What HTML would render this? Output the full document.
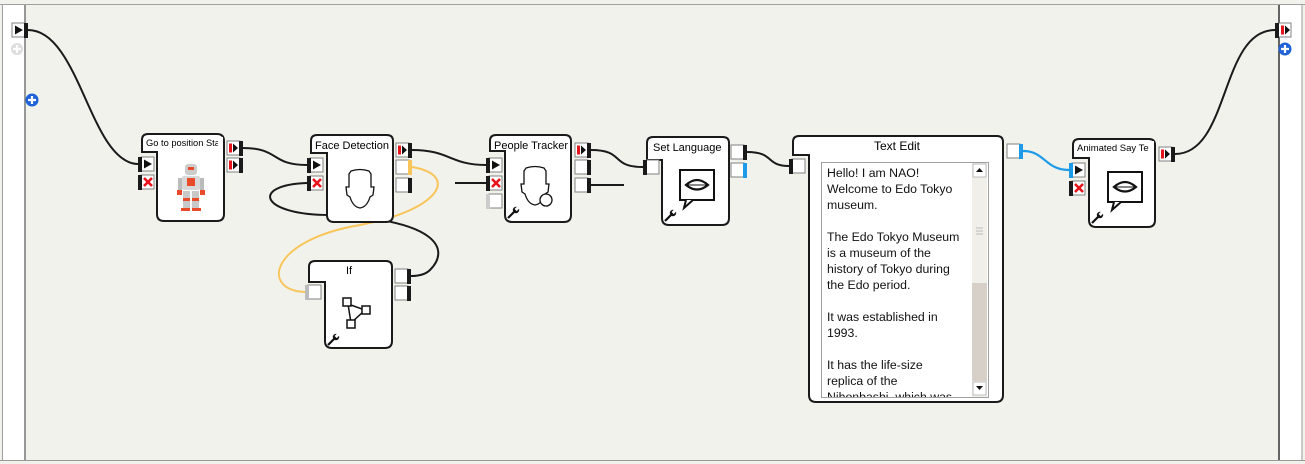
<!DOCTYPE html>
<html><head><meta charset="utf-8"><style>
html,body{margin:0;padding:0;background:#f2f2ec;}
svg{display:block;}
text{font-family:"Liberation Sans",sans-serif;}
</style></head><body>
<svg width="1305" height="464" viewBox="0 0 1305 464" xmlns="http://www.w3.org/2000/svg">
<defs>
<g id="pin"><rect x="3" y="0" width="13" height="14" fill="#fff" stroke="#808080" stroke-width="1"/><rect x="0" y="0" width="4" height="15" fill="#1a1a1a"/></g>
<g id="pout"><rect x="0" y="0" width="13" height="14" fill="#fff" stroke="#808080" stroke-width="1"/><rect x="12" y="0" width="4" height="15" fill="#1a1a1a"/></g>
<path id="play" d="M0,0 L8,4.5 L0,9 Z" fill="#111"/>
<g id="xx"><path d="M0,0 L8,8 M8,0 L0,8" stroke="#e8141c" stroke-width="2.6"/></g>
<g id="stp"><rect x="0" y="0" width="3" height="9" fill="#e8141c"/><path d="M4,0 L9,4.5 L4,9 Z" fill="#111"/></g>
<g id="wr"><path d="M0,12 L7,5" stroke="#111" stroke-width="2.2"/><circle cx="8" cy="4" r="3.2" fill="#111"/><rect x="7" y="0" width="3" height="4" fill="#fff" transform="rotate(45 8 3)"/></g>
<g id="lips"><rect x="0" y="0" width="34" height="30" fill="#fff" stroke="#111" stroke-width="2"/><path d="M6,30 L4,38 L13,30" fill="#fff" stroke="#111" stroke-width="2"/><path d="M6,15 Q17,5 28,15 Q17,24 6,15 Z" fill="none" stroke="#111" stroke-width="2.2"/><path d="M7,15 L27,15" stroke="#111" stroke-width="1"/></g>
<path id="face" d="M4,0 Q13,-3 22,0 L24,3 L24,16 L27,16 L26,24 L23,26 Q20,36 13,37 Q6,36 3,26 L0,24 L-1,16 L2,16 L2,3 Z" fill="#fff" stroke="#111" stroke-width="1.3"/>
</defs>
<rect x="0" y="0" width="1305" height="464" fill="#f2f2ec"/>
<line x1="0" y1="4.5" x2="1305" y2="4.5" stroke="#a0a0a0"/>
<rect x="3" y="5" width="22" height="455" fill="#fff"/>
<line x1="2.5" y1="5" x2="2.5" y2="460" stroke="#a0a0a0"/>
<line x1="25" y1="5" x2="25" y2="460" stroke="#777" stroke-width="1.5"/>
<rect x="1279" y="5" width="22" height="455" fill="#fff"/>
<line x1="1279" y1="5" x2="1279" y2="460" stroke="#333" stroke-width="1.5"/>
<line x1="1302" y1="5" x2="1302" y2="460" stroke="#a0a0a0"/>
<line x1="0" y1="460.5" x2="1305" y2="460.5" stroke="#999"/>
<rect x="0" y="461" width="1305" height="3" fill="#f2f2ec"/>

<g fill="none" stroke="#1a1a1a" stroke-width="2">
<path d="M28,30 C80,30 90,163 138,164"/>
<path d="M243,148 C280,148 270,165 307,165"/>
<path d="M412,150 C450,150 450,165 486,165"/>
<path d="M307,183 C250,185 260,215 330,215 C440,220 450,250 430,270 C425,275 418,276 411,276"/>
<path d="M455,183 L486,183"/>
<path d="M591,185 L624,185"/>
<path d="M591,150 C625,150 610,167 643,167"/>
<path d="M747,152 C775,152 765,166 789,166"/>
<path d="M1175,154 C1230,154 1220,30 1275,30"/>
</g>
<path d="M412,167 C460,175 440,210 360,225 C270,240 260,290 305,292" fill="none" stroke="#f8c55a" stroke-width="2"/>
<path d="M1023,151 C1045,151 1045,170 1069,170" fill="none" stroke="#1e9be8" stroke-width="2.2"/>

<g fill="#fff" stroke="#1a1a1a" stroke-width="2">
<path d="M148,134 H217 Q224,134 224,141 V214 Q224,221 217,221 H164 Q157,221 157,214 V152 H142 V140 Q142,134 148,134 Z"/>
<path d="M317,135 H387 Q393,135 393,141 V215 Q393,222 386,222 H334 Q327,222 327,215 V153 H311 V141 Q311,135 317,135 Z"/>
<path d="M315,261 H386 Q392,261 392,267 V341 Q392,348 385,348 H332 Q325,348 325,341 V282 H309 V267 Q309,261 315,261 Z"/>
<path d="M496,135 H565 Q571,135 571,141 V215 Q571,222 564,222 H512 Q505,222 505,215 V151 H490 V141 Q490,135 496,135 Z"/>
<path d="M653,137 H723 Q729,137 729,143 V218 Q729,225 722,225 H669 Q662,225 662,218 V160 H647 V143 Q647,137 653,137 Z"/>
<path d="M799,136 H997 Q1003,136 1003,142 V395 Q1003,402 996,402 H816 Q809,402 809,395 V155 H793 V142 Q793,136 799,136 Z"/>
<path d="M1079,139 H1149 Q1155,139 1155,145 V220 Q1155,227 1148,227 H1096 Q1089,227 1089,220 V158 H1073 V145 Q1073,139 1079,139 Z"/>
</g>
<g font-size="11" fill="#000">
<text x="146" y="146" font-size="9.3">Go to position Sta</text>
<text x="315" y="149">Face Detection</text>
<text x="346" y="274">If</text>
<text x="494" y="149">People Tracker</text>
<text x="653" y="151">Set Language</text>
<text x="874" y="150" font-size="12">Text Edit</text>
<text x="1077" y="151" font-size="9.5">Animated Say Te</text>
</g>
<rect x="218" y="137" width="5" height="13" fill="#fff"/>
<rect x="1150" y="141" width="4" height="13" fill="#fff"/>

<g>
<rect x="185" y="164" width="12" height="11" rx="3" fill="#ccc"/>
<rect x="188" y="167" width="6" height="3" fill="#e84a2a"/>
<rect x="182" y="176" width="18" height="14" rx="2" fill="#d8d8d8"/>
<rect x="187" y="178" width="8" height="8" fill="#e84a2a"/>
<rect x="178" y="178" width="4" height="16" fill="#bbb"/><rect x="200" y="178" width="4" height="16" fill="#bbb"/>
<rect x="177" y="190" width="5" height="5" fill="#e84a2a"/><rect x="200" y="190" width="5" height="5" fill="#e84a2a"/>
<rect x="183" y="191" width="7" height="20" fill="#c8c8c8"/><rect x="192" y="191" width="7" height="20" fill="#c8c8c8"/>
<rect x="183" y="198" width="7" height="3" fill="#e84a2a"/><rect x="192" y="198" width="7" height="3" fill="#e84a2a"/>
<rect x="181" y="208" width="9" height="3" fill="#e84a2a"/><rect x="192" y="208" width="9" height="3" fill="#e84a2a"/>
</g>

<use href="#face" x="347" y="171"/>
<use href="#face" x="522" y="168"/>
<circle cx="546" cy="200" r="6" fill="#fff" stroke="#111" stroke-width="1.3"/>
<use href="#lips" x="680" y="170"/>
<use href="#lips" x="1108" y="172"/>
<g stroke="#111" stroke-width="1.5" fill="#fff">
<path d="M348,304 L365,310 L351,323 Z" fill="none"/>
<rect x="343" y="298" width="8" height="8"/><rect x="362" y="306" width="8" height="8"/><rect x="347" y="320" width="8" height="8"/>
</g>
<use href="#wr" x="328" y="333"/>
<use href="#wr" x="508" y="206"/>
<use href="#wr" x="665" y="209"/>
<use href="#wr" x="1092" y="211"/>

<rect x="821.5" y="162.5" width="167" height="235" fill="#fff" stroke="#a0a0a0"/>
<rect x="972" y="163" width="15" height="234" fill="#f0efea"/>
<rect x="972" y="283" width="15" height="98" fill="#d6d0c8"/>
<rect x="973" y="164" width="13" height="13" fill="#fff" stroke="#999" stroke-width="0.6"/>
<rect x="973" y="382" width="13" height="13" fill="#fff" stroke="#999" stroke-width="0.6"/>
<path d="M976,172 L979.5,168 L983,172 Z" fill="#111"/>
<path d="M976,386 L979.5,390 L983,386 Z" fill="#111"/>
<path d="M976,228 H983 M976,231 H983 M976,234 H983" stroke="#bbb"/>
<svg x="822" y="163" width="150" height="234" overflow="hidden">
<g font-size="12.3" fill="#111">
<text x="5" y="14">Hello! I am NAO!</text>
<text x="5" y="30">Welcome to Edo Tokyo</text>
<text x="5" y="46">museum.</text>
<text x="5" y="78">The Edo Tokyo Museum</text>
<text x="5" y="94">is a museum of the</text>
<text x="5" y="110">history of Tokyo during</text>
<text x="5" y="126">the Edo period.</text>
<text x="5" y="158">It was established in</text>
<text x="5" y="174">1993.</text>
<text x="5" y="206">It has the life-size</text>
<text x="5" y="222">replica of the</text>
<text x="5" y="238">Nihonbashi, which was</text>
</g></svg>

<use href="#pout" x="12" y="23"/><use href="#play" x="15" y="25.5"/>
<use href="#pin" x="1275" y="23"/><use href="#stp" x="1281" y="25.5"/>
<use href="#pin" x="138" y="157"/><use href="#play" x="144" y="159.5"/>
<use href="#pin" x="138" y="175"/><use href="#xx" x="144" y="178"/>
<use href="#pout" x="227" y="141"/><use href="#stp" x="229" y="143.5"/>
<use href="#pout" x="227" y="158"/><use href="#stp" x="229" y="160.5"/>
<use href="#pin" x="307" y="158"/><use href="#play" x="313" y="160.5"/>
<use href="#pin" x="307" y="176"/><use href="#xx" x="313" y="179"/>
<use href="#pout" x="396" y="143"/><use href="#stp" x="398" y="145.5"/>
<use href="#pout" x="396" y="160"/><rect x="408" y="160" width="4" height="15" fill="#f8c55a"/>
<use href="#pout" x="396" y="178"/>
<use href="#pin" x="305" y="285"/><rect x="305" y="285" width="4" height="15" fill="#bbb"/>
<use href="#pout" x="395" y="269"/><use href="#pout" x="395" y="286"/>
<use href="#pin" x="486" y="158"/><use href="#play" x="492" y="160.5"/>
<use href="#pin" x="486" y="176"/><use href="#xx" x="492" y="179"/>
<use href="#pin" x="486" y="194"/><rect x="486" y="194" width="4" height="15" fill="#ccc"/>
<use href="#pout" x="575" y="143"/><use href="#stp" x="577" y="145.5"/>
<use href="#pout" x="575" y="160"/><use href="#pout" x="575" y="178"/>
<use href="#pin" x="643" y="160"/>
<use href="#pout" x="731" y="145"/><use href="#pout" x="731" y="163"/><rect x="743" y="163" width="4" height="15" fill="#1e9be8"/>
<use href="#pin" x="789" y="159"/>
<use href="#pout" x="1007" y="144"/><rect x="1019" y="144" width="4" height="15" fill="#1e9be8"/>
<use href="#pin" x="1069" y="163"/><rect x="1069" y="163" width="4" height="15" fill="#1e9be8"/><use href="#play" x="1075" y="165.5"/>
<use href="#pin" x="1069" y="181"/><use href="#xx" x="1075" y="184"/>
<use href="#pout" x="1159" y="147"/><use href="#stp" x="1161" y="149.5"/>

<circle cx="17" cy="49" r="6" fill="#ddd"/><path d="M13,49 H21 M17,45 V53" stroke="#fff" stroke-width="2.2"/>
<circle cx="32" cy="100" r="6.5" fill="#1f62d8"/><path d="M28,100 H36 M32,96 V104" stroke="#fff" stroke-width="2.2"/>
<circle cx="1285" cy="49" r="6.5" fill="#1f62d8"/><path d="M1281,49 H1289 M1285,45 V53" stroke="#fff" stroke-width="2.2"/>
</svg>
</body></html>
